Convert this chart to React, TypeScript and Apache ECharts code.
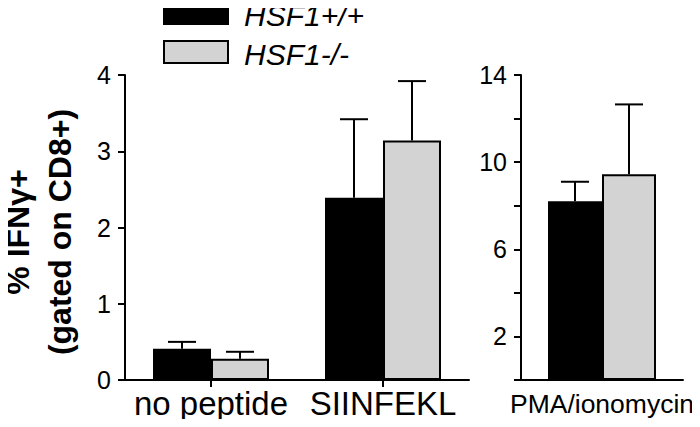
import React, { useEffect, useRef } from "react";
import * as echarts from "echarts";

const categoriesLeft = ["no peptide", "SIINFEKL"];
const categoriesRight = ["PMA/ionomycin"];
const seriesNames = ["HSF1+/+", "HSF1-/-"];
const wtLeft = [0.41, 2.39];
const koLeft = [0.28, 3.14];
const wtLeftErr = [0.09, 1.03];
const koLeftErr = [0.09, 0.78];
const wtRight = [8.2];
const koRight = [9.45];
const wtRightErr = [0.9];
const koRightErr = [3.2];
const leftTicks = [0, 1, 2, 3, 4];
const rightTickLabels = [2, 6, 10, 14];

const FONT = "'Liberation Sans', Arial, sans-serif";
const BLACK = "#000000";
const GREY = "#d3d3d3";
const seriesColors = [BLACK, GREY];

function makeErr(bw: number) {
  return (params: any, api: any) => {
    const cat = api.value(0);
    const v = api.value(1);
    const e = api.value(2);
    const side = api.value(3);
    const p0 = api.coord([cat, v]);
    const p1 = api.coord([cat, v + e]);
    const x = p0[0] + (side ? 1 : -1) * bw / 2;
    const st = { stroke: BLACK, lineWidth: 2 };
    return {
      type: "group",
      children: [
        { type: "line", shape: { x1: x, y1: p0[1], x2: x, y2: p1[1] }, style: st },
        { type: "line", shape: { x1: x - 14, y1: p1[1], x2: x + 14, y2: p1[1] }, style: st },
      ],
    };
  };
}

export default function App() {
  const ref = useRef<HTMLDivElement>(null);
  useEffect(() => {
    const chart = echarts.init(ref.current!, null, { renderer: "svg" });
    const errLeft: any[] = [];
    categoriesLeft.forEach((_, i) => {
      errLeft.push([i, wtLeft[i], wtLeftErr[i], 0]);
      errLeft.push([i, koLeft[i], koLeftErr[i], 1]);
    });
    const errRight: any[] = [];
    categoriesRight.forEach((_, i) => {
      errRight.push([i, wtRight[i], wtRightErr[i], 0]);
      errRight.push([i, koRight[i], koRightErr[i], 1]);
    });
    const axisLine = { lineStyle: { color: BLACK, width: 2 } };
    const legendGraphics: any[] = [];
    seriesNames.forEach((name, i) => {
      const top = 2 + i * 39;
      legendGraphics.push({
        type: "rect",
        shape: { x: 164, y: top, width: 64, height: 22 },
        style: { fill: seriesColors[i], stroke: BLACK, lineWidth: 2 },
      });
      legendGraphics.push({
        type: "text",
        x: 244,
        y: top + 13,
        style: {
          text: name,
          font: `italic 30px ${FONT}`,
          fill: BLACK,
          align: "left",
          verticalAlign: "middle",
        },
      });
    });
    chart.setOption({
      animation: false,
      backgroundColor: "#ffffff",
      textStyle: { fontFamily: FONT },
      graphic: [
        ...legendGraphics,
        {
          type: "text",
          x: 39,
          y: 232,
          rotation: Math.PI / 2,
          style: {
            text: "% IFNγ+\n(gated on CD8+)",
            font: `bold 32px ${FONT}`,
            fill: BLACK,
            align: "center",
            verticalAlign: "middle",
            lineHeight: 42,
          },
        },
      ],
      grid: [
        { left: 125, top: 75, width: 344, height: 305 },
        { left: 521, top: 75, width: 162, height: 305 },
      ],
      xAxis: [
        {
          type: "category",
          gridIndex: 0,
          data: categoriesLeft,
          axisLine,
          axisTick: { show: true, alignWithLabel: true, length: 7, lineStyle: { color: BLACK, width: 2 } },
          axisLabel: { color: BLACK, fontSize: 33, margin: 7, interval: 0, fontFamily: FONT },
        },
        {
          type: "category",
          gridIndex: 1,
          data: categoriesRight,
          axisLine,
          axisTick: { show: false },
          axisLabel: { color: BLACK, fontSize: 26.5, margin: 10, interval: 0, fontFamily: FONT },
        },
      ],
      yAxis: [
        {
          type: "value",
          gridIndex: 0,
          min: 0,
          max: 4,
          interval: 1,
          axisLine: { show: true, ...axisLine },
          axisTick: { show: true, length: 7, lineStyle: { color: BLACK, width: 2 } },
          splitLine: { show: false },
          axisLabel: {
            color: BLACK,
            fontSize: 25,
            margin: 14,
            fontFamily: FONT,
            formatter: (v: number) => (leftTicks.includes(v) ? String(v) : ""),
          },
        },
        {
          type: "value",
          gridIndex: 1,
          min: 0,
          max: 14,
          interval: 2,
          axisLine: { show: true, ...axisLine },
          axisTick: { show: true, length: 7, lineStyle: { color: BLACK, width: 2 } },
          splitLine: { show: false },
          axisLabel: {
            color: BLACK,
            fontSize: 25,
            margin: 14,
            fontFamily: FONT,
            formatter: (v: number) => (rightTickLabels.includes(v) ? String(v) : ""),
          },
        },
      ],
      series: [
        {
          name: seriesNames[0], type: "bar", xAxisIndex: 0, yAxisIndex: 0, data: wtLeft,
          barWidth: 58, barGap: "0%",
          itemStyle: { color: BLACK, borderColor: BLACK, borderWidth: 2 },
        },
        {
          name: seriesNames[1], type: "bar", xAxisIndex: 0, yAxisIndex: 0, data: koLeft,
          barWidth: 58, barGap: "0%",
          itemStyle: { color: GREY, borderColor: BLACK, borderWidth: 2 },
        },
        {
          name: seriesNames[0], type: "bar", xAxisIndex: 1, yAxisIndex: 1, data: wtRight,
          barWidth: 54, barGap: "0%",
          itemStyle: { color: BLACK, borderColor: BLACK, borderWidth: 2 },
        },
        {
          name: seriesNames[1], type: "bar", xAxisIndex: 1, yAxisIndex: 1, data: koRight,
          barWidth: 54, barGap: "0%",
          itemStyle: { color: GREY, borderColor: BLACK, borderWidth: 2 },
        },
        {
          type: "custom", xAxisIndex: 0, yAxisIndex: 0, data: errLeft, z: 5,
          encode: { x: 0, y: 1 },
          renderItem: makeErr(58),
        },
        {
          type: "custom", xAxisIndex: 1, yAxisIndex: 1, data: errRight, z: 5,
          encode: { x: 0, y: 1 },
          renderItem: makeErr(54),
        },
      ],
    });
    return () => chart.dispose();
  }, []);
  return <div ref={ref} style={{ width: 700, height: 427, margin: -8 }} />;
}
